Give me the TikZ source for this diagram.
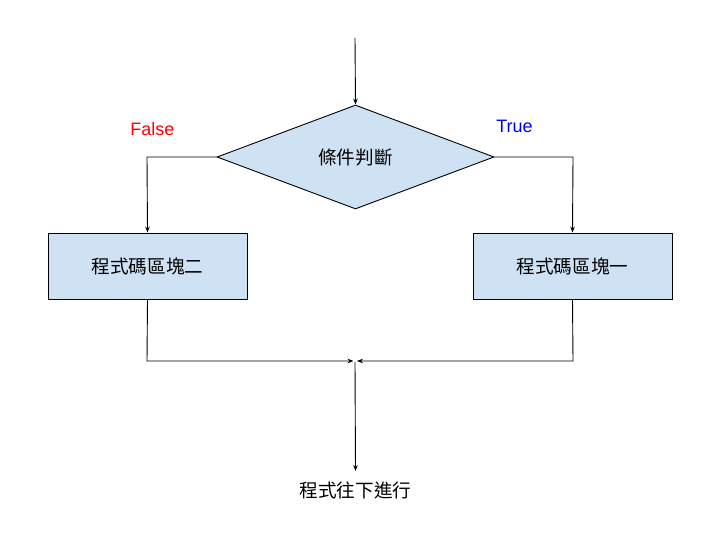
\documentclass[tikz,border=0pt]{standalone}
\usepackage{fontspec}
\setmainfont{Liberation Sans}
\newfontfamily\cjk{Noto Sans CJK TC}
\usetikzlibrary{shapes.geometric,arrows.meta}
\definecolor{boxfill}{HTML}{CFE2F3}
\tikzset{
  x=1pt,y=-1pt,
  conn/.style={draw=black,line width=0.9pt},
  arr/.style={conn,-{Stealth[length=6pt,width=4.5pt]}},
  box/.style={draw=black,line width=0.9pt,fill=boxfill,minimum width=199pt,minimum height=66pt,inner sep=0pt,font=\cjk\fontsize{18.6}{20}\selectfont},
  cond/.style={diamond,draw=black,line width=0.9pt,fill=boxfill,inner sep=0pt,minimum width=277pt,minimum height=104pt,aspect=2.66,font=\cjk\fontsize{18.6}{20}\selectfont},
  lbl/.style={font=\fontsize{18}{20}\selectfont,inner sep=0pt},
  txt/.style={font=\cjk\fontsize{18.6}{20}\selectfont,inner sep=0pt}
}
\begin{document}
\begin{tikzpicture}
\useasboundingbox (0,0) rectangle (720,540);
\coordinate (start) at (355,38);
\node[cond] (d) at (355.5,157) {條件判斷};
\node[box] (b2) at (147.5,266) {程式碼區塊二};
\node[box] (b1) at (572.5,266) {程式碼區塊一};
\coordinate (lc) at (147,157);
\coordinate (rc) at (573,157);
\coordinate (lb) at (147,361);
\coordinate (rb) at (573,361);
\coordinate (ml) at (353.5,361);
\coordinate (mr) at (357,361);
\coordinate (mt) at (355,362);
\node[txt] (end) at (355.5,490) {程式往下進行};
\node[lbl,text=red] (f) at (152.5,129) {False};
\node[lbl,text=blue] (t) at (514.5,126) {True};
\draw[arr] (start) -- (d.north);
\draw[arr] (d.west) -- (lc) -- (b2.north);
\draw[arr] (d.east) -- (rc) -- (b1.north);
\draw[arr] (b2.south) -- (lb) -- (ml);
\draw[arr] (b1.south) -- (rb) -- (mr);
\draw[arr] (mt) -- (end.north |- 0,471);
\end{tikzpicture}
\end{document}
